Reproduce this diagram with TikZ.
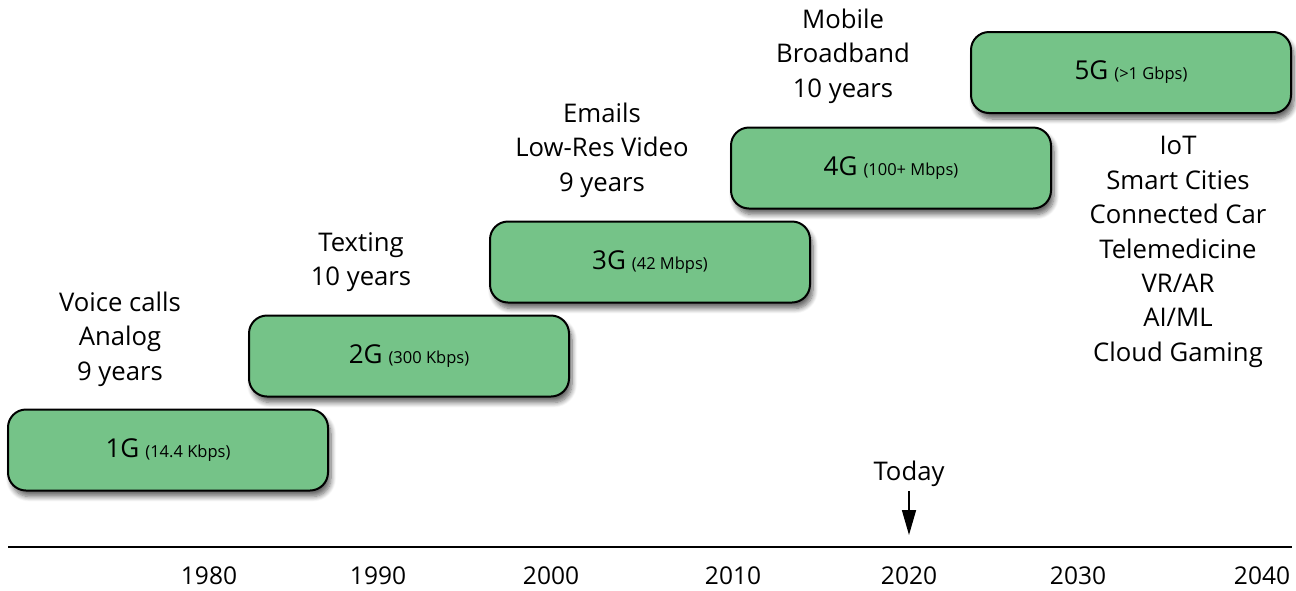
\documentclass[tikz,border=0pt]{standalone}
\usepackage{fontspec}
\setmainfont{Open Sans}
\usetikzlibrary{shadows.blur,arrows.meta}
\definecolor{boxgreen}{RGB}{117,195,136}
\tikzset{
  genbox/.style={draw=black, line width=2pt, fill=boxgreen, rounded corners=18pt,
    minimum width=320pt, minimum height=81pt, inner sep=0pt,
    blur shadow={shadow xshift=3pt, shadow yshift=-6pt, shadow blur steps=8, shadow blur radius=5pt, shadow opacity=60}},
  lbl/.style={align=center, inner sep=0pt, font=\fontsize{25.7}{34.4}\selectfont},
  yr/.style={inner sep=0pt, font=\fontsize{24.5}{28}\selectfont}
}
\newcommand{\gtxt}[2]{{\fontsize{26}{30}\selectfont #1}\hspace{6pt}{\fontsize{16.5}{18}\selectfont (#2)}}
\begin{document}
\begin{tikzpicture}[x=1pt,y=-1pt]
\useasboundingbox (0,0) rectangle (1296,590);
\node[genbox] (g1) at (168,450) {\gtxt{1G}{14.4 Kbps}};
\node[genbox] (g2) at (409,356) {\gtxt{2G}{300 Kbps}};
\node[genbox] (g3) at (650,262) {\gtxt{3G}{42 Mbps}};
\node[genbox] (g4) at (891,168) {\gtxt{4G}{100+ Mbps}};
\node[genbox] (g5) at (1131,72.5) {\gtxt{5G}{>1 Gbps}};
\node[lbl] (l1) at (120,339) {Voice calls\\Analog\\9 years};
\node[lbl] (l2) at (361,262) {Texting\\10 years};
\node[lbl] (l3) at (602,150) {Emails\\Low-Res Video\\9 years};
\node[lbl] (l4) at (843,56) {Mobile\\Broadband\\10 years};
\node[lbl] (l5) at (1178,252) {IoT\\Smart Cities\\Connected Car\\Telemedicine\\VR/AR\\AI/ML\\Cloud Gaming};
\node[lbl] (today) at (909,474) {Today};
\coordinate (todayend) at (909,535);
\draw[line width=1.6pt, -{Triangle[length=25pt,width=14pt]}] (today.south) ++(0,4) -- (todayend);
\coordinate (axl) at (8,547);
\coordinate (axr) at (1292,547);
\draw[line width=2pt] (axl) -- (axr);
\node[yr] (y1980) at (209,576) {1980};
\node[yr] (y1990) at (378,576) {1990};
\node[yr] (y2000) at (551,576) {2000};
\node[yr] (y2010) at (733,576) {2010};
\node[yr] (y2020) at (909,576) {2020};
\node[yr] (y2030) at (1078,576) {2030};
\node[yr] (y2040) at (1262,576) {2040};
\end{tikzpicture}
\end{document}
